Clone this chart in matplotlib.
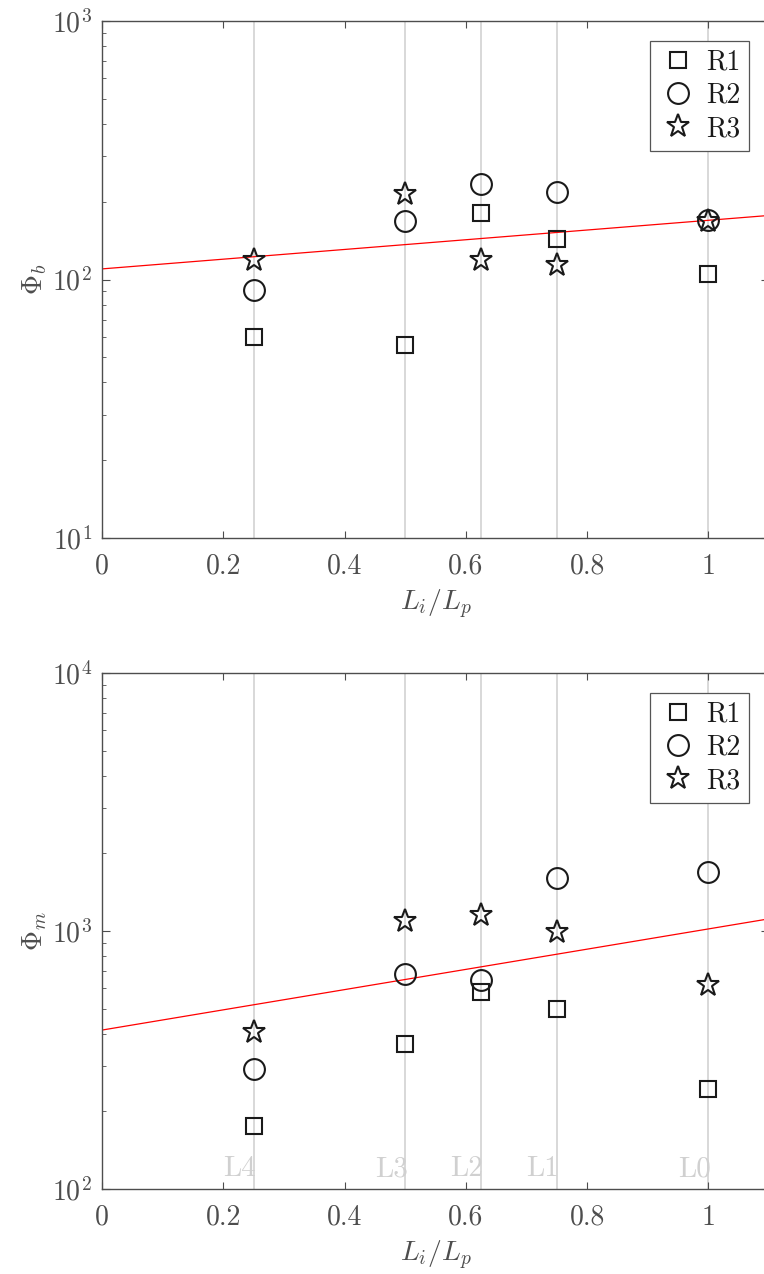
import numpy as np
import matplotlib
matplotlib.use("Agg")
import matplotlib.pyplot as plt

# =========================
# Data
# =========================
x_pos = [0.25, 0.5, 0.625, 0.75, 1.0]
level_names = ["L4", "L3", "L2", "L1", "L0"]

# Phi_b (top panel)
phib_r1 = [60, 56, 181, 143, 105]
phib_r2 = [91, 168, 234, 218, 170]
phib_r3 = [119, 214, 119, 114, 168]

# Phi_m (bottom panel)
phim_r1 = [175, 365, 580, 498, 244]
phim_r2 = [292, 681, 646, 1604, 1693]
phim_r3 = [406, 1093, 1153, 991, 618]

# red trend lines: log10(y) = a + b*x
fit_b = [2.041, 0.188]
fit_m = [2.616, 0.392]

xtick_vals = [0, 0.2, 0.4, 0.6, 0.8, 1]
xtick_labels = ["0", "0.2", "0.4", "0.6", "0.8", "1"]
series_names = ["R1", "R2", "R3"]

# =========================
# Style
# =========================
plt.rcParams["font.family"] = "serif"
plt.rcParams["font.serif"] = ["cmr10"]
plt.rcParams["mathtext.fontset"] = "cm"
plt.rcParams["axes.formatter.use_mathtext"] = True
plt.rcParams["axes.unicode_minus"] = False

FS = 20
GRAY = "#4d4d4d"
MK = "#1a1a1a"

fig = plt.figure(figsize=(7.64, 12.74), dpi=100)
ax1 = fig.add_axes([102 / 764, 1 - 538 / 1274, 667 / 764, 517 / 1274])
ax2 = fig.add_axes([102 / 764, 1 - 1189 / 1274, 667 / 764, 516 / 1274])


def draw_panel(ax, r1, r2, r3, fit, ylims, ylabel):
    for xv in x_pos:
        ax.axvline(xv, color="#d2d2d2", lw=1.2, zorder=1)

    xx = np.linspace(0, 1.1, 50)
    ax.plot(xx, 10 ** (fit[0] + fit[1] * xx), color="red", lw=0.9, zorder=2)

    ax.plot(x_pos, r1, ls="none", marker="s", ms=12.2, mfc="none", mec=MK, mew=1.5,
            label=series_names[0], zorder=3)
    ax.plot(x_pos, r2, ls="none", marker="o", ms=15, mfc="none", mec=MK, mew=1.5,
            label=series_names[1], zorder=3)
    ax.plot(x_pos, r3, ls="none", marker="*", ms=17, mfc="none", mec=MK, mew=1.5,
            label=series_names[2], zorder=3)

    ax.set_yscale("log")
    ax.set_xlim(0, 1.1)
    ax.set_ylim(*ylims)
    ax.set_xticks(xtick_vals)
    ax.set_xticklabels(xtick_labels)

    ax.tick_params(which="both", direction="in", top=True, right=True,
                   colors=GRAY, labelsize=FS)
    ax.tick_params(axis="x", which="major", length=5, pad=11)
    ax.tick_params(axis="y", which="major", length=5.5, pad=7)
    ax.tick_params(axis="y", which="minor", length=3)
    for sp in ax.spines.values():
        sp.set_color(GRAY)
        sp.set_linewidth(1.0)

    ax.set_xlabel(r"$L_i/L_p$", fontsize=FS, color=GRAY, labelpad=6)
    ax.set_ylabel(ylabel, fontsize=FS, color=GRAY, labelpad=2)

    leg = ax.legend(loc="upper right", fontsize=FS, fancybox=False, framealpha=1,
                    edgecolor="#555555", borderaxespad=0.72, borderpad=0.3,
                    labelspacing=0.25, handlelength=1.44, handletextpad=0.3)
    leg.get_frame().set_linewidth(0.9)
    for t in leg.get_texts():
        t.set_color("#1a1a1a")


# =========================
# Top panel
# =========================
draw_panel(ax1, phib_r1, phib_r2, phib_r3, fit_b, (10, 1000), r"$\Phi_b$")

# =========================
# Bottom panel
# =========================
draw_panel(ax2, phim_r1, phim_r2, phim_r3, fit_m, (100, 10000), r"$\Phi_m$")

for xv, name in zip(x_pos, level_names):
    ax2.text(xv + 0.004, 112, name, ha="right", va="baseline", fontsize=21,
             color="#d0d0d0", zorder=1)

fig.savefig("out.png", dpi=100)
